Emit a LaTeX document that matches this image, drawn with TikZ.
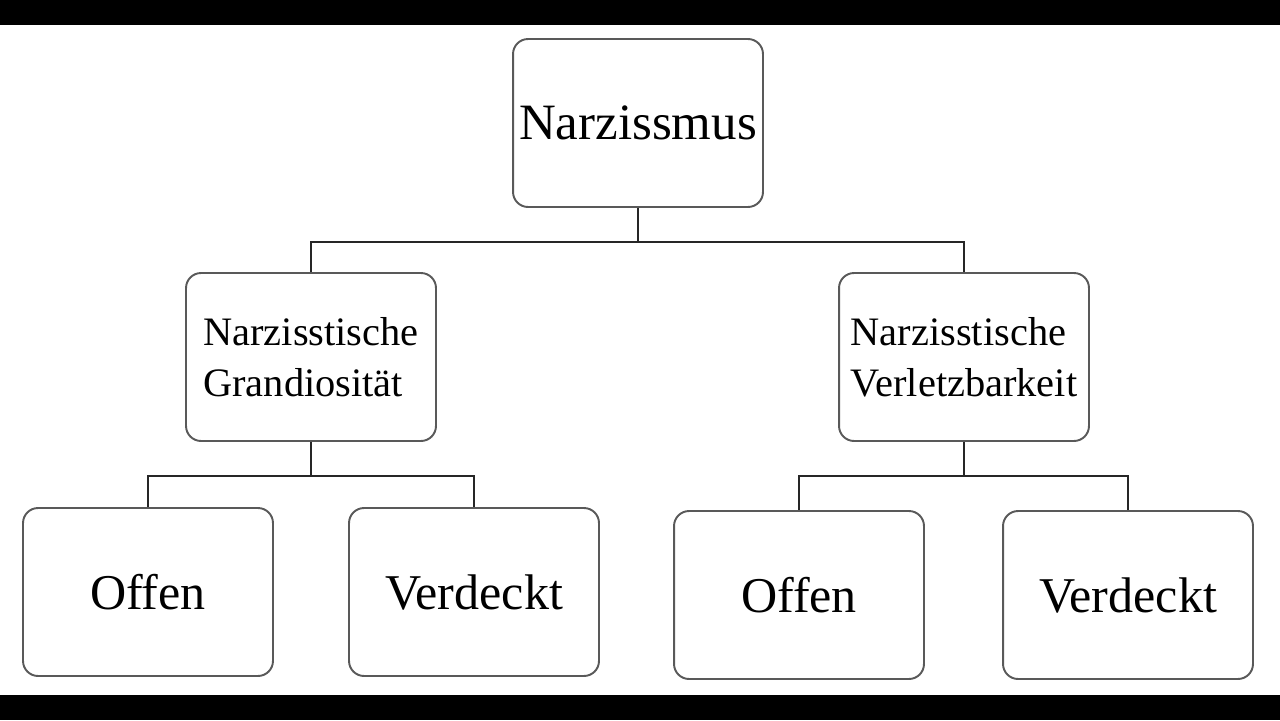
\documentclass[tikz,border=0pt]{standalone}
\usepackage{fontspec}
\setmainfont{Liberation Serif}
\usepackage{tikz}
\usetikzlibrary{positioning}

\begin{document}
\begin{tikzpicture}[
  x=0.02cm, y=-0.02cm,
  box/.style={draw=black!65, line width=1.1pt, rounded corners=0.3cm,
    minimum width=5cm, minimum height=3.36cm, align=center, inner sep=0pt},
  topbox/.style={box, font=\fontsize{29}{33}\selectfont},
  midbox/.style={box, align=left, font=\fontsize{23}{29}\selectfont},
  leafbox/.style={box, font=\fontsize{28.5}{33}\selectfont},
  link/.style={draw=black!85, line width=1.1pt},
]
  \useasboundingbox (0,0) rectangle (1280,720);
  \fill[black] (0,0) rectangle (1280,25);
  \fill[black] (0,695) rectangle (1280,720);

  \node[topbox] (narz) at (638,123) {Narzissmus};
  \node[midbox] (grand) at (311,357) {Narzisstische\\Grandiosität};
  \node[midbox] (verl)  at (964,357) {Narzisstische\\Verletzbarkeit};
  \node[leafbox] (goffen) at (148,592) {Offen};
  \node[leafbox] (gverd)  at (474,592) {Verdeckt};
  \node[leafbox] (voffen) at (799,595) {Offen};
  \node[leafbox] (vverd)  at (1128,595) {Verdeckt};

  \draw[link] (narz.south) -- ++(0,34) -| (grand.north);
  \draw[link] (narz.south) -- ++(0,34) -| (verl.north);
  \draw[link] (grand.south) -- ++(0,34) -| (goffen.north);
  \draw[link] (grand.south) -- ++(0,34) -| (gverd.north);
  \draw[link] (verl.south) -- ++(0,34) -| (voffen.north);
  \draw[link] (verl.south) -- ++(0,34) -| (vverd.north);
\end{tikzpicture}
\end{document}
